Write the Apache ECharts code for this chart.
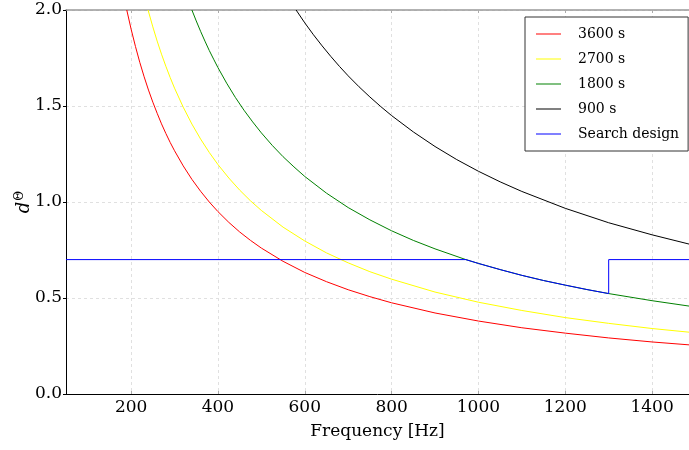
<!DOCTYPE html>
<html>
<head>
<meta charset="utf-8">
<script src="https://cdn.jsdelivr.net/npm/echarts@6/dist/echarts.min.js"></script>
<style>html,body{margin:0;padding:0;background:#fff;}#c{width:689px;height:450px;}</style>
</head>
<body>
<div id="c"></div>
<script>
// Tick labels
const xTicks = [200, 400, 600, 800, 1000, 1200, 1400];
const yTicks = [0, 0.5, 1.0, 1.5, 2.0];

// Series names
const seriesNames = ['3600 s', '2700 s', '1800 s', '900 s', 'Search design'];

// [frequency, d] pairs
const s3600 = [[190,2.000],[200,1.900],[210,1.810],[220,1.727],[230,1.652],[240,1.583],[250,1.520],[260,1.462],[270,1.407],[280,1.357],[290,1.310],[300,1.267],[320,1.188],[340,1.118],[360,1.056],[380,1.000],[400,0.950],[425,0.894],[450,0.844],[475,0.800],[500,0.760],[550,0.691],[600,0.633],[650,0.585],[700,0.543],[750,0.507],[800,0.475],[900,0.422],[1000,0.380],[1100,0.345],[1200,0.317],[1300,0.292],[1400,0.271],[1485,0.256]];
const s2700 = [[239,2.000],[250,1.912],[260,1.838],[270,1.770],[280,1.707],[290,1.648],[300,1.593],[320,1.494],[340,1.406],[360,1.328],[380,1.258],[400,1.195],[425,1.125],[450,1.062],[475,1.006],[500,0.956],[550,0.869],[600,0.797],[650,0.735],[700,0.683],[750,0.637],[800,0.598],[900,0.531],[1000,0.478],[1100,0.435],[1200,0.398],[1300,0.368],[1400,0.341],[1485,0.322]];
const s1800 = [[340,2.000],[350,1.943],[360,1.889],[370,1.838],[380,1.789],[390,1.744],[400,1.700],[420,1.619],[440,1.545],[460,1.478],[480,1.417],[500,1.360],[525,1.295],[550,1.236],[575,1.183],[600,1.133],[650,1.046],[700,0.971],[750,0.907],[800,0.850],[850,0.800],[900,0.756],[971,0.700],[1000,0.680],[1050,0.648],[1100,0.618],[1150,0.591],[1200,0.567],[1250,0.544],[1300,0.523],[1400,0.486],[1485,0.458]];
const s900 = [[580,2.000],[600,1.933],[620,1.871],[640,1.813],[660,1.758],[680,1.706],[700,1.657],[725,1.600],[750,1.547],[775,1.497],[800,1.450],[850,1.365],[900,1.289],[950,1.221],[1000,1.160],[1050,1.105],[1100,1.055],[1200,0.967],[1300,0.892],[1400,0.829],[1485,0.781]];
const sSearch = [[50,0.700],[971,0.700],[1000,0.680],[1050,0.648],[1100,0.618],[1150,0.591],[1200,0.567],[1250,0.544],[1300,0.523],[1300,0.700],[1485,0.700]];

const colors = ['#ff0000', '#ffff00', '#008000', '#000000', '#0000ff'];
const datas = [s3600, s2700, s1800, s900, sSearch];
const FONT = 'DejaVu Serif';

const chart = echarts.init(document.getElementById('c'), null, {renderer: 'canvas'});
const series = datas.map((d, i) => ({
  name: seriesNames[i],
  type: 'line',
  data: d,
  showSymbol: false,
  symbol: 'none',
  smooth: false,
  lineStyle: {color: colors[i], width: 1},
  itemStyle: {color: colors[i]},
  z: i === 4 ? 5 : 2,
  animation: false
}));

chart.setOption({
  animation: false,
  grid: {left: 66, right: 0, top: 10, bottom: 56, containLabel: false},
  xAxis: [{
    type: 'value', min: 50, max: 1485,
    name: 'Frequency [Hz]', nameLocation: 'middle', nameGap: 29,
    nameTextStyle: {fontFamily: FONT, fontSize: 17, color: '#000'},
    axisLine: {show: true, lineStyle: {color: '#000', width: 1}},
    axisTick: {show: true, inside: true, length: 3, customValues: xTicks, lineStyle: {color: '#aaa'}},
    axisLabel: {customValues: xTicks, fontFamily: FONT, fontSize: 17, color: '#000', margin: 5, formatter: v => String(v)},
    splitLine: {show: true, lineStyle: {color: '#e0e0e0', type: [3, 3], width: 1}}
  }, {
    type: 'value', min: 50, max: 1485, position: 'top',
    axisLine: {show: true, lineStyle: {color: '#999', width: 1.5}},
    axisTick: {show: true, inside: true, length: 3, customValues: xTicks, lineStyle: {color: '#aaa'}},
    axisLabel: {show: false},
    splitLine: {show: false}
  }],
  yAxis: {
    type: 'value', min: 0, max: 2, interval: 0.5,
    name: '{d|d}{s|Θ}', nameLocation: 'middle', nameGap: 32, nameRotate: 90,
    nameMoveOverlap: false,
    nameTextStyle: {
      rich: {
        d: {fontFamily: FONT, fontStyle: 'italic', fontSize: 18, color: '#000'},
        s: {fontFamily: FONT, fontSize: 12, color: '#000', verticalAlign: 'top', padding: [0, 0, 8, 1]}
      }
    },
    axisLine: {show: true, lineStyle: {color: '#000', width: 1}},
    axisTick: {show: true, inside: false, length: 3, lineStyle: {color: '#000'}},
    axisLabel: {fontFamily: FONT, fontSize: 17, color: '#000', margin: 4, formatter: v => v.toFixed(1)},
    splitLine: {show: true, lineStyle: {color: '#e0e0e0', type: [3, 3], width: 1}}
  },
  legend: {
    orient: 'vertical', left: 525, top: 17,
    data: seriesNames,
    icon: 'rect', itemWidth: 25, itemHeight: 1,
    itemGap: 7,
    padding: [8, 9, 8, 11],
    borderColor: '#333', borderWidth: 1, backgroundColor: '#fff',
    textStyle: {fontFamily: FONT, fontSize: 14, color: '#000', padding: [0, 0, 0, 12], lineHeight: 18}
  },
  series: series
});
</script>
</body>
</html>
